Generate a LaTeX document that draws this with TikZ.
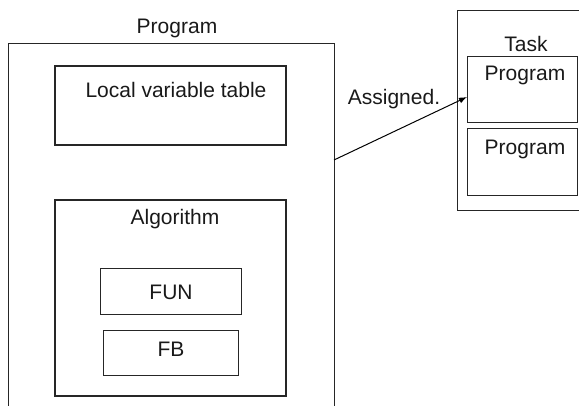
\documentclass[tikz,border=0pt]{standalone}
\usepackage{fontspec}
\setmainfont{Liberation Sans}
\usetikzlibrary{arrows.meta,calc}
\begin{document}
\begin{tikzpicture}[x=1pt,y=-1pt,
  box/.style={draw=black!85,line width=1pt,inner sep=0pt,outer sep=0pt},
  txt/.style={inner sep=0pt,font=\fontsize{21}{25}\selectfont,text=black!90}]
\useasboundingbox (0,0) rectangle (579,406);
\clip (0,0) rectangle (579,406);
% outer program (open at bottom)
\node[box,minimum width=326pt,minimum height=376pt] (prog) at (171,232) {};
\node[txt] (progt) at (177,28) {Program};
\node[box,line width=1.3pt,minimum width=231pt,minimum height=79pt] (lvt) at (170.5,105.5) {};
\node[txt] (lvtt) at (176,90) {Local variable table};
\node[box,line width=1.4pt,minimum width=231pt,minimum height=196pt] (algo) at (170.5,298) {};
\node[txt] (algot) at (175,219) {Algorithm};
\node[box,minimum width=141pt,minimum height=46pt] (fun) at (170.5,292) {};
\node[txt] (funt) at (171,292) {FUN};
\node[box,minimum width=135pt,minimum height=45pt] (fb) at (170.5,353.5) {};
\node[txt] (fbt) at (171,349) {FB};
% task
\node[box,minimum width=133pt,minimum height=200pt] (task) at (523.5,111) {};
\node[txt] (taskt) at (526,44) {Task};
\node[box,minimum width=110pt,minimum height=66pt] (p1) at (522,90) {};
\node[txt] (p1t) at (525,75) {Program};
\node[box,minimum width=110pt,minimum height=67pt] (p2) at (522,162.5) {};
\node[txt] (p2t) at (525,149) {Program};
\node[txt] (asg) at (394,99) {Assigned.};
% arrow
\coordinate (from) at ($(prog.east)+(0,-72)$);
\coordinate (to) at ($(p1.west)+(0,7)$);
\draw[line width=1pt,-{Latex[length=8pt,width=6pt]}] (from) -- (to);
\end{tikzpicture}
\end{document}
